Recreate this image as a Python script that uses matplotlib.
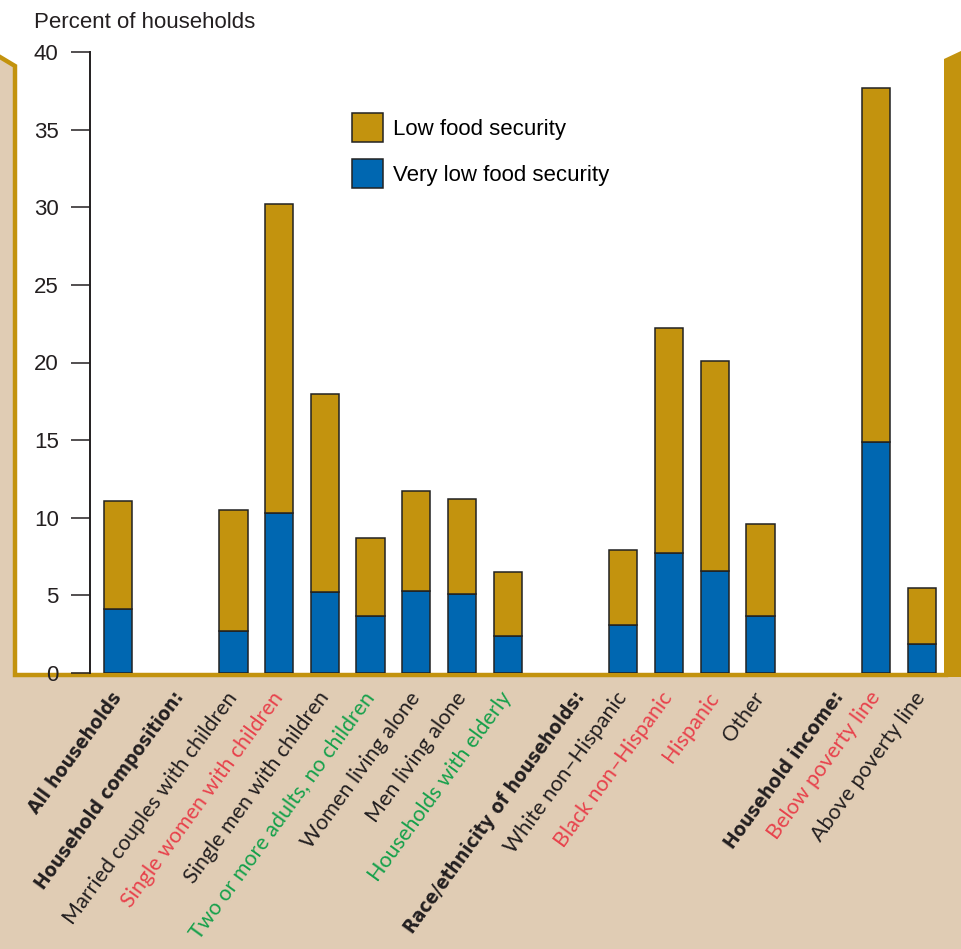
import matplotlib
matplotlib.use("Agg")
import matplotlib.pyplot as plt
from matplotlib.patches import Polygon, Patch
from matplotlib.lines import Line2D

NARROW = "Liberation Sans"
HUMAN = "Lato"

# ---------------- data ----------------
categories = ["All households",
              "Married couples with children", "Single women with children",
              "Single men with children", "Two or more adults, no children",
              "Women living alone", "Men living alone", "Households with elderly",
              "White non–Hispanic", "Black non–Hispanic", "Hispanic", "Other",
              "Below poverty line", "Above poverty line"]
very_low = [4.1, 2.7, 10.3, 5.2, 3.7, 5.3, 5.1, 2.4, 3.1, 7.7, 6.6, 3.7, 14.9, 1.9]
low = [7.0, 7.8, 19.9, 12.8, 5.0, 6.4, 6.1, 4.1, 4.8, 14.5, 13.5, 5.9, 22.8, 3.6]
label_colors = ["k", "k", "r", "k", "g", "k", "k", "g", "k", "r", "r", "k", "r", "k"]
groups = [1, 7, 4, 2]          # bars per group
headers = ["Household composition:", "Race/ethnicity of households:", "Household income:"]
header_offsets = [1.16, 0.92, 0.78]   # label placement left of the next group's first bar
yticks = [0, 5, 10, 15, 20, 25, 30, 35, 40]
ylabel = "Percent of households"
legend_labels = ["Low food security", "Very low food security"]

GOLD = "#C3930E"
BLUE = "#0067B1"
TAN = "#E0CCB4"
EDGE = "#222222"
CMAP = {"k": "#231F20", "r": "#E8424C", "g": "#15A04B"}

# positions: groups separated by a wider gap
GAP = 2.53
positions, header_pos = [], []
x = 0.0
for gi, n in enumerate(groups):
    if gi > 0:
        x += GAP
        header_pos.append(x - header_offsets[gi - 1])
    for k in range(n):
        if k > 0:
            x += 1.0
        positions.append(x)

W, H = 961, 949
fig = plt.figure(figsize=(W / 100, H / 100), dpi=100, facecolor="white")

def fx(px):
    return px / W

def fy(py):
    return 1 - py / H

# background panels
tan_left = Polygon([(fx(0), fy(58)), (fx(15), fy(66)), (fx(15), fy(676)),
                    (fx(945), fy(676)), (fx(945), fy(H)), (fx(0), fy(H))],
                   closed=True, transform=fig.transFigure, facecolor=TAN,
                   edgecolor="none", zorder=0)
fig.patches.append(tan_left)
gold_right = Polygon([(fx(944), fy(59)), (fx(W), fy(51)), (fx(W), fy(677)),
                      (fx(944), fy(677))], closed=True, transform=fig.transFigure,
                     facecolor=GOLD, edgecolor="none", zorder=1)
fig.patches.append(gold_right)
tan_bottom = Polygon([(fx(944), fy(677)), (fx(W), fy(677)), (fx(W), fy(H)),
                      (fx(944), fy(H))], closed=True, transform=fig.transFigure,
                     facecolor=TAN, edgecolor="none", zorder=1)
fig.patches.append(tan_bottom)
border = Line2D([fx(0), fx(15), fx(15), fx(946)], [fy(57), fy(66), fy(675), fy(675)],
                transform=fig.transFigure, color=GOLD, linewidth=3.2,
                solid_joinstyle="miter", zorder=2)
fig.lines.append(border)

ax = fig.add_axes([fx(90), fy(673), fx(945) - fx(90), fy(52) - fy(673)])
ax.set_facecolor("none")
ax.set_zorder(3)

bw = 0.62
ax.bar(positions, very_low, width=bw, color=BLUE, edgecolor=EDGE, linewidth=1.1,
       label=legend_labels[1], zorder=3)
ax.bar(positions, low, bottom=very_low, width=bw, color=GOLD, edgecolor=EDGE,
       linewidth=1.1, label=legend_labels[0], zorder=3)

ax.set_xlim(-0.61, 18.1)
ax.set_ylim(0, 40)
ax.set_yticks(yticks)
ax.set_yticklabels([str(t) for t in yticks], fontsize=16, family=NARROW, color="#231F20")
ax.tick_params(axis="y", direction="out", length=13.5, width=1.1, pad=9, colors="#231F20")
for s in ["top", "right", "bottom"]:
    ax.spines[s].set_visible(False)
ax.spines["left"].set_linewidth(1.4)
ax.spines["left"].set_color("#231F20")

# x tick labels (bars + headers)
all_pos = list(positions) + header_pos
all_lab = list(categories) + headers
ax.set_xticks(all_pos)
ax.set_xticklabels(all_lab)
ax.tick_params(axis="x", length=0, pad=15)
n_cat = len(categories)
for i, t in enumerate(ax.get_xticklabels()):
    t.set_rotation(54)
    t.set_rotation_mode("anchor")
    t.set_ha("right")
    t.set_va("center")
    if i == 0 or i >= n_cat:
        t.set_family("DejaVu Sans")
        t.set_fontstretch("condensed")
        t.set_fontweight("bold")
        t.set_fontsize(14)
        t.set_color("#231F20")
    else:
        t.set_family(HUMAN)
        t.set_fontsize(15.5)
        t.set_color(CMAP[label_colors[i]])

fig.text(fx(34), fy(22), ylabel, fontsize=16, family=NARROW, color="#231F20",
         ha="left", va="center")

handles = [Patch(facecolor=GOLD, edgecolor=EDGE, linewidth=1.1),
           Patch(facecolor=BLUE, edgecolor=EDGE, linewidth=1.1)]
ax.legend(handles, legend_labels, loc="upper left", bbox_to_anchor=(0.306, 0.902),
          frameon=False, prop={"family": NARROW, "size": 16},
          handlelength=1.4, handleheight=1.63, handletextpad=0.45,
          labelspacing=0.77, borderpad=0, borderaxespad=0)

fig.savefig("out.png", dpi=100, facecolor=fig.get_facecolor())
